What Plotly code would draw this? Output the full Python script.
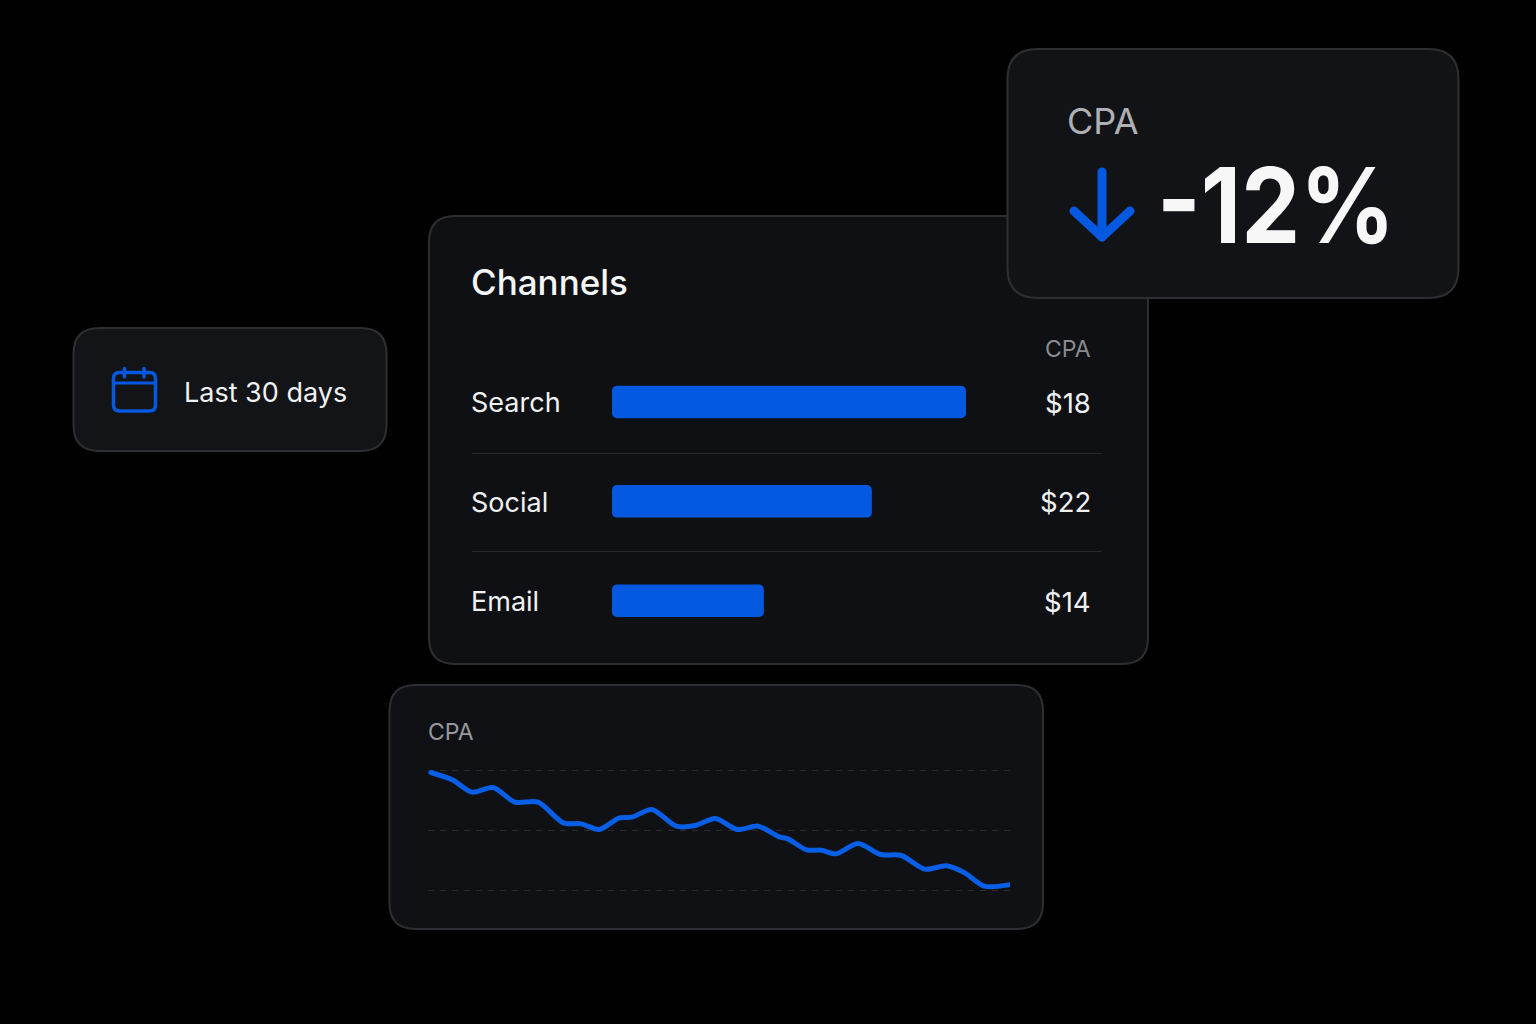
import plotly.graph_objects as go

# ---------- data ----------
channels = ["Search", "Social", "Email"]
bar_lengths = [100.0, 73.4, 42.9]
cpa_labels = ["$18", "$22", "$14"]
trend_days = [0, 1.12, 2.07, 3.12, 4.22, 5.38, 6.65, 7.56, 8.45, 9.46, 10.1, 11.09, 12.32, 13.27, 14.28,
              15.38, 16.43, 17.49, 17.91, 18.86, 19.6, 20.34, 21.44, 22.56, 23.62, 24.78, 25.88, 26.79, 27.78, 29.0]
trend_cpa = [29.67, 28.39, 26.39, 27.17, 24.72, 24.72, 21.28, 21.11, 20.17, 22.11, 22.22, 23.5, 20.72, 20.83, 22.0,
             20.17, 20.72, 18.94, 18.61, 16.78, 16.72, 16.11, 17.83, 16.0, 15.83, 13.56, 14.11, 12.94, 10.72, 10.94]
grid_values = [10, 20, 30]

W, H = 1536, 1024
BLUE = "#0558e0"
LINE_BLUE = "#085fe6"
FONT = "Inter"

def px(x): return x / W
def py(y): return 1 - y / H
def P(x, y): return f"{px(x):.5f},{py(y):.5f}"

def rrect_path(x0, y0, x1, y1, r):
    return (f"M{P(x0+r,y0)} L{P(x1-r,y0)} Q{P(x1,y0)} {P(x1,y0+r)} L{P(x1,y1-r)} Q{P(x1,y1)} {P(x1-r,y1)} "
            f"L{P(x0+r,y1)} Q{P(x0,y1)} {P(x0,y1-r)} L{P(x0,y0+r)} Q{P(x0,y0)} {P(x0+r,y0)} Z")

shapes = []
def card(x0, y0, x1, y1, r, fill, border="#2e2f33"):
    shapes.append(dict(type="path", xref="paper", yref="paper", layer="below", path=rrect_path(x0, y0, x1, y1, r),
                       fillcolor=fill, line=dict(color=border, width=2)))
def stroke(points, width, color):
    d = "M" + " L".join(P(*p) for p in points)
    shapes.append(dict(type="path", xref="paper", yref="paper", layer="below", path=d,
                       line=dict(color=color, width=width)))

# cards
card(73.5, 328, 386.5, 451, 26, "#131418")
card(429, 216, 1148, 664, 26, "#0e1014")
card(389.5, 685, 1043, 929, 26, "#101115")
card(1007.5, 49, 1458.5, 298, 30, "#121317")
# separators
stroke([(472, 453.5), (1101, 453.5)], 1, "#2a2b2f")
stroke([(472, 551.5), (1101, 551.5)], 1, "#2a2b2f")
# calendar icon
shapes.append(dict(type="path", xref="paper", yref="paper", layer="below", path=rrect_path(113.5, 372.5, 155.5, 411, 6),
                   fillcolor="rgba(0,0,0,0)", line=dict(color=BLUE, width=3.5)))
stroke([(113.5, 383), (155.5, 383)], 3, BLUE)
stroke([(124.5, 368.5), (124.5, 377)], 3.5, BLUE)
stroke([(144, 368.5), (144, 377)], 3.5, BLUE)
# arrow icon
stroke([(1102, 172), (1102, 237)], 9, BLUE)
stroke([(1074, 211), (1102, 237), (1130, 211)], 9, BLUE)

fig = go.Figure()
# a tiny non-zero base makes Plotly round all four corners of each bar
fig.add_trace(go.Bar(x=bar_lengths, base=[0.001] * 3, y=channels, orientation="h", xaxis="x", yaxis="y",
                     marker=dict(color=BLUE, cornerradius=5, line=dict(width=0)), width=0.327, hoverinfo="skip"))
fig.add_trace(go.Scatter(x=trend_days, y=trend_cpa, mode="lines", xaxis="x2", yaxis="y2",
                         line=dict(color=LINE_BLUE, width=5, shape="spline", smoothing=0.8), hoverinfo="skip"))

anns = []
def text(s, x, y, size, color, anchor="left", weight=400):
    anns.append(dict(text=s, xref="paper", yref="paper", x=px(x), y=py(y), xanchor=anchor, yanchor="middle",
                     showarrow=False, font=dict(family=FONT, size=size, color=color, weight=weight)))
text("Channels", 468.5, 282, 35, "#f4f5f6", weight=500)
text("CPA", 1092.5, 349, 23, "#8a8c90", anchor="right")
text("CPA", 1065, 120.5, 36, "#aeb0b4")
text("-12%", 1155, 205, 104, "#f7f7f8", weight=700)
text("Last 30 days", 182, 392, 27, "#f0f1f2")
text("CPA", 426, 732, 23, "#97999d")
for name, label in zip(channels, cpa_labels):
    anns.append(dict(text=name, xref="paper", yref="y", x=px(469), y=name, yshift=-1, xanchor="left", yanchor="middle",
                     showarrow=False, font=dict(family=FONT, size=27, color="#f0f1f2")))
    anns.append(dict(text=label, xref="paper", yref="y", x=px(1093), y=name, yshift=-1, xanchor="right", yanchor="middle",
                     showarrow=False, font=dict(family=FONT, size=27.5, color="#f0f1f2")))

hidden = dict(showgrid=False, zeroline=False, showline=False, showticklabels=False, ticks="")
fig.update_layout(
    width=W, height=H, autosize=False, margin=dict(l=0, r=0, t=0, b=0), showlegend=False,
    paper_bgcolor="#010101", plot_bgcolor="rgba(0,0,0,0)", hovermode=False, dragmode=False,
    shapes=shapes, annotations=anns,
    xaxis=dict(domain=[px(612), px(966)], range=[0, 100], anchor="y", **hidden),
    yaxis=dict(domain=[py(650.4), py(352.3)], range=[2.5, -0.5], type="category", categoryorder="array",
               categoryarray=channels, anchor="x", **hidden),
    xaxis2=dict(domain=[px(428), px(1010)], range=[-0.14, 29.065], anchor="y2", **hidden),
    yaxis2=dict(domain=[py(902.5), py(758.5)], range=[8, 32], anchor="x2", showgrid=True, gridcolor="#2b2c30", gridwidth=1,
                griddash="6px,6px", tickvals=grid_values, zeroline=False, showline=False, showticklabels=False, ticks=""),
)
post = ("document.body.style.margin='0';document.body.style.overflow='hidden';"
        "document.body.style.background='#010101';"
        "document.querySelectorAll('.js-line, .shapelayer path').forEach(function(p){p.style.strokeLinecap='round';p.style.strokeLinejoin='round';});"
        "document.querySelectorAll('.annotation-text').forEach(function(t){if(t.textContent==='-12%'){"
        "t.style.transformBox='fill-box';t.style.transformOrigin='left center';t.style.transform='scaleX(0.9)';}});")
fig.write_html("out.html", config={"displayModeBar": False, "staticPlot": True}, post_script=post)
